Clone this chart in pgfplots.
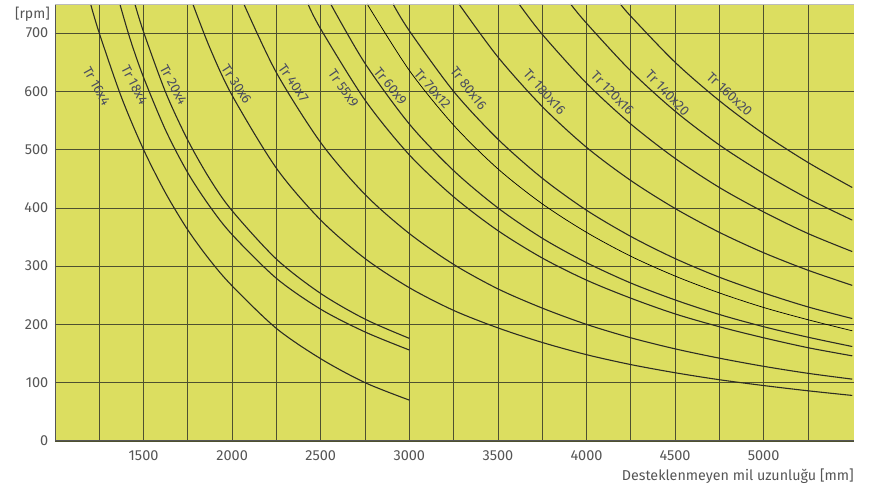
\documentclass[border=0pt]{standalone}
\usepackage{pgfplots}
\pgfplotsset{compat=1.18}
\usepackage{fontspec}
\setmainfont{Fira Sans}
\definecolor{bg}{RGB}{220,222,96}
\definecolor{gridc}{RGB}{78,80,48}
\definecolor{curvec}{RGB}{45,45,35}
\definecolor{labc}{RGB}{75,78,95}
\definecolor{tickc}{RGB}{85,85,85}
\pgfplotsset{crv/.style={curvec, line width=1.1pt, smooth, mark=none}}
\begin{document}
\begin{tikzpicture}
\begin{axis}[
  scale only axis, width=799.2pt, height=437pt,
  xmin=1000, xmax=5510, ymin=0, ymax=750,
  axis background/.style={fill=bg},
  axis lines=left, axis line style={-, draw=tickc, line width=0.9pt},
  xtick={1500,2000,...,5000}, minor xtick={1250,1750,...,5250},
  ytick={0,100,...,700},
  grid=both,
  major grid style={draw=gridc, line width=0.75pt},
  minor grid style={draw=gridc, line width=0.75pt},
  tick style={draw=none},
  ticklabel style={font=\fontsize{14.5}{16}\selectfont, text=tickc},
  xticklabel style={yshift=-4pt},
  yticklabel style={xshift=-1pt},
  /pgf/number format/assume math mode=true,
  /pgf/number format/1000 sep={},
]
\addplot[crv] coordinates {(1201,750)(1250,700)(1375,590)(1500,500)(1625,425)(1750,362)(1875,310)(2000,266)(2250,193)(2500,141)(2750,100)(3000,70)};
\addplot[crv] coordinates {(1366,750)(1425,689)(1500,624)(1625,533)(1750,460)(1875,402)(2000,354)(2250,279)(2500,226)(2750,187)(3000,156)};
\addplot[crv] coordinates {(1451,750)(1500,702)(1625,598)(1750,516)(1875,449)(2000,395)(2250,312)(2500,253)(2750,209)(3000,176)};
\addplot[crv] coordinates {(1778,750)(1875,674)(2000,593)(2250,468)(2500,379)(2750,313)(3000,263)(3250,224)(3500,194)(3750,169)(4000,148)(4250,131)(4500,117)(4750,105)(5000,95)(5250,86)(5500,78)};
\addplot[crv] coordinates {(2066,750)(2250,632)(2500,512)(2750,423)(3000,356)(3250,303)(3500,261)(3750,228)(4000,200)(4250,177)(4500,158)(4750,142)(5000,128)(5250,116)(5500,106)};
\addplot[crv] coordinates {(2428,750)(2500,707)(2750,585)(3000,491)(3250,419)(3500,361)(3750,314)(4000,276)(4250,245)(4500,218)(4750,196)(5000,177)(5250,160)(5500,146)};
\addplot[crv] coordinates {(2556,750)(2750,648)(3000,544)(3250,464)(3500,400)(3750,348)(4000,306)(4250,271)(4500,242)(4750,217)(5000,196)(5250,178)(5500,162)};
\addplot[crv, black, line width=0.7pt] coordinates {(2762,750)(3000,636)(3250,542)(3500,467)(3750,407)(4000,358)(4250,317)(4500,283)(4750,254)(5000,229)(5250,208)(5500,189)};
\addplot[crv] coordinates {(2908,750)(3000,704)(3250,600)(3500,518)(3750,451)(4000,396)(4250,351)(4500,313)(4750,281)(5000,254)(5250,230)(5500,210)};
\addplot[crv] coordinates {(3280,750)(3500,659)(3750,574)(4000,504)(4250,447)(4500,399)(4750,358)(5000,323)(5250,293)(5500,267)};
\addplot[crv] coordinates {(3619,750)(3750,698)(4000,614)(4250,544)(4500,485)(4750,435)(5000,393)(5250,356)(5500,325)};
\addplot[crv] coordinates {(3910,750)(4000,717)(4250,635)(4500,566)(4750,508)(5000,459)(5250,416)(5500,379)};
\addplot[crv] coordinates {(4191,750)(4250,729)(4500,650)(4750,584)(5000,527)(5250,478)(5500,435)};
\begin{scope}[every node/.style={text=labc, font=\fontsize{13.5}{15}\selectfont, inner sep=0pt}]
\node[rotate=-61] at (axis cs:1235,609) {Tr 16x4};
\node[rotate=-63] at (axis cs:1449,611) {Tr 18x4};
\node[rotate=-62] at (axis cs:1669,611) {Tr 20x4};
\node[rotate=-57] at (axis cs:2025,612) {Tr 30x6};
\node[rotate=-55] at (axis cs:2346,614) {Tr 40x7};
\node[rotate=-55] at (axis cs:2628,605) {Tr 55x9};
\node[rotate=-51] at (axis cs:2893,609) {Tr 60x9};
\node[rotate=-49] at (axis cs:3131,604) {Tr 70x12};
\node[rotate=-52] at (axis cs:3334,605) {Tr 80x16};
\node[rotate=-48] at (axis cs:3763,599) {Tr 180x16};
\node[rotate=-46] at (axis cs:4147,597) {Tr 120x16};
\node[rotate=-46] at (axis cs:4457,597) {Tr 140x20};
\node[rotate=-43] at (axis cs:4807,595) {Tr 160x20};
\end{scope}
\end{axis}
\draw[tickc!40, line width=0.6pt] (current axis.north west) -- (current axis.north east);
\node[anchor=east, text=tickc, font=\fontsize{14}{16}\selectfont, inner sep=0pt] at ([xshift=-5pt,yshift=-10pt]current axis.north west) {[rpm]};
\node[anchor=east, text=tickc, font=\fontsize{14.3}{16}\selectfont, inner sep=0pt] at ([yshift=-35pt]current axis.south east) {Desteklenmeyen mil uzunluğu [mm]};
\path ([xshift=-55pt,yshift=-49pt]current axis.south west) rectangle ([xshift=15pt,yshift=4pt]current axis.north east);
\end{tikzpicture}
\end{document}
